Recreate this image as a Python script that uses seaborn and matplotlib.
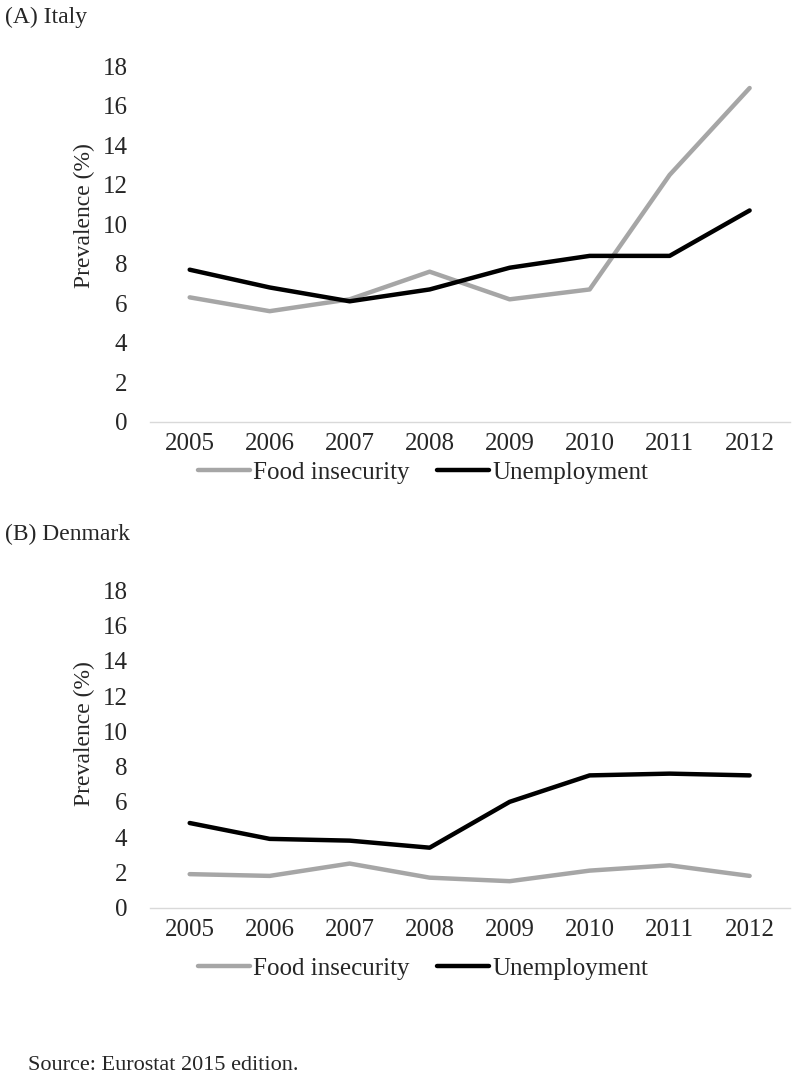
import numpy as np
import pandas as pd
import matplotlib
matplotlib.use("Agg")
import matplotlib.pyplot as plt
import seaborn as sns

# data
years = ["2005", "2006", "2007", "2008", "2009", "2010", "2011", "2012"]
italy_food = [6.3, 5.6, 6.2, 7.6, 6.2, 6.7, 12.5, 16.9]
italy_unemp = [7.7, 6.8, 6.1, 6.7, 7.8, 8.4, 8.4, 10.7]
denmark_food = [1.9, 1.8, 2.5, 1.7, 1.5, 2.1, 2.4, 1.8]
denmark_unemp = [4.8, 3.9, 3.8, 3.4, 6.0, 7.5, 7.6, 7.5]
series_names = ["Food insecurity", "Unemployment"]
panel_titles = ["(A) Italy", "(B) Denmark"]
y_ticks = [0, 2, 4, 6, 8, 10, 12, 14, 16, 18]

sns.set_theme(style="white")
plt.rcParams["font.family"] = ["Liberation Serif", "DejaVu Serif"]

palette = {"Food insecurity": "#a6a6a6", "Unemployment": "#000000"}


def make_df(food, unemp):
    return pd.DataFrame({
        "year": years * 2,
        "value": food + unemp,
        "series": [series_names[0]] * len(years) + [series_names[1]] * len(years),
    })


fig = plt.figure(figsize=(7.92, 10.87), dpi=100)
ax_top = fig.add_axes([0.189, 0.612, 0.808, 0.327])
ax_bot = fig.add_axes([0.189, 0.165, 0.808, 0.292])

panels = [
    (ax_top, make_df(italy_food, italy_unemp), 0.565, 0.984, 0.58),
    (ax_bot, make_df(denmark_food, denmark_unemp), 0.109, 0.508, 0.55),
]

for i, (ax, df, leg_y, title_y, ylab_y) in enumerate(panels):
    sns.lineplot(data=df, x="year", y="value", hue="series", palette=palette,
                 linewidth=3.2, ax=ax, legend=True)
    ax.set_xlim(-0.5, 7.5)
    ax.set_ylim(0, 18)
    ax.set_yticks(y_ticks)
    ax.set_xlabel("")
    ax.set_ylabel("Prevalence (%)", fontsize=17)
    ax.yaxis.set_label_coords(-0.085, ylab_y)
    for s in ["top", "right", "left"]:
        ax.spines[s].set_visible(False)
    ax.spines["bottom"].set_color("#d9d9d9")
    ax.spines["bottom"].set_linewidth(1.0)
    ax.tick_params(axis="x", length=0, pad=8, labelsize=18)
    ax.tick_params(axis="y", length=0, pad=16, labelsize=18)
    ax.grid(False)

    handles, labels = ax.get_legend_handles_labels()
    ax.get_legend().remove()
    fig.legend(handles, labels, loc="center", bbox_to_anchor=(0.534, leg_y),
               ncol=2, frameon=False, fontsize=18, handlelength=2.1,
               handletextpad=0.1, columnspacing=1.1)

    fig.text(0.006, title_y, panel_titles[i], fontsize=17, va="center", ha="left")

fig.text(0.035, 0.02, "Source: Eurostat 2015 edition.", fontsize=16, va="center", ha="left")

fig.savefig("out.png", dpi=100)
